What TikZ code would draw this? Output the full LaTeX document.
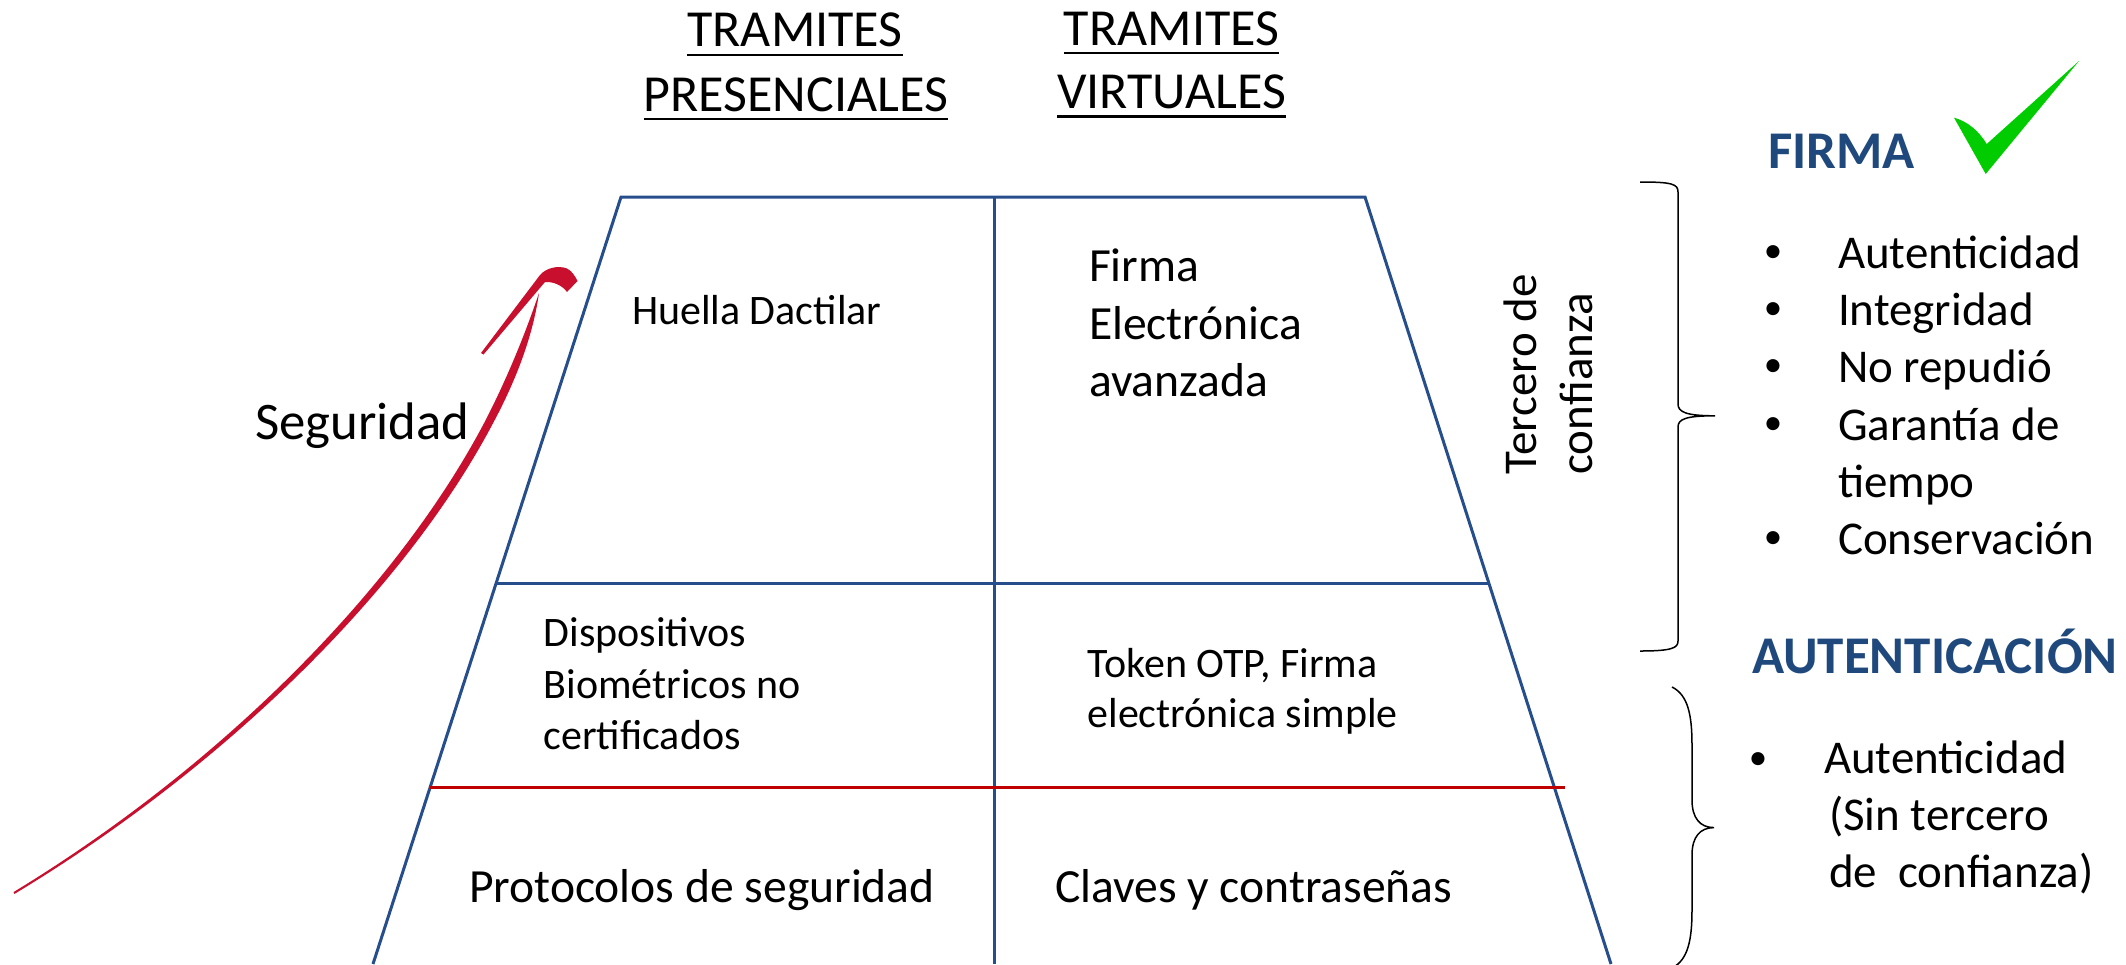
\documentclass[tikz,border=0pt]{standalone}
\usepackage{fontspec}
\setmainfont{Carlito}
\definecolor{trapblue}{RGB}{38,78,140}
\definecolor{linered}{RGB}{192,0,0}
\definecolor{arrowred}{RGB}{200,16,46}
\definecolor{titleblue}{RGB}{31,73,125}
\definecolor{checkgreen}{RGB}{0,204,0}
\begin{document}
\begin{tikzpicture}[x=0.5pt,y=-0.5pt,
  every node/.style={inner sep=0pt,outer sep=0pt},
  trap/.style={draw=trapblue,line width=1.5pt,line join=miter},
  redline/.style={draw=linered,line width=1.6pt},
  hdr/.style={font=\fontsize{26}{32}\selectfont,anchor=base},
  uline/.style={line width=1.2pt},
  cell/.style={font=\fontsize{21}{25}\selectfont,anchor=base west},
  big/.style={font=\fontsize{23.8}{28}\selectfont,anchor=base west},
  item/.style={font=\fontsize{23.5}{28}\selectfont,anchor=base west},
  bul/.style={font=\fontsize{18.5}{22}\selectfont,anchor=base},
  ttl/.style={font=\fontsize{26.5}{30}\selectfont\bfseries,text=titleblue,anchor=base west},
  vtext/.style={font=\fontsize{23.5}{28}\selectfont,anchor=base west,rotate=90},
  brace/.style={draw=black,line width=0.75pt}]
\useasboundingbox (0,0) rectangle (2126,964);

% trapezoid
\coordinate (tl) at (621,197);
\coordinate (tr) at (1365,197);
\coordinate (bl) at (373,964);
\coordinate (br) at (1611,964);
\coordinate (mt) at (994,197);
\coordinate (mb) at (994,964);
\coordinate (bll) at (496.2,583);
\coordinate (blr) at (1488.8,583);
\coordinate (rll) at (430.1,787.5);
\coordinate (rlr) at (1565,787.5);
\draw[trap] (bl) -- (tl) -- (tr) -- (br);
\draw[trap] (mt) -- (mb);
\draw[trap] (bll) -- (blr);
\draw[redline] (rll) -- (rlr);

% headers
\node[hdr] (h1a) at (795,46.7) {TRAMITES};
\node[hdr] (h1b) at (795.8,111) {PRESENCIALES};
\node[hdr] (h2a) at (1171.6,45) {TRAMITES};
\node[hdr] (h2b) at (1171.6,108.5) {VIRTUALES};
\foreach \n in {h1a,h1b,h2a,h2b}
  \draw[uline] ([yshift=-4pt]\n.base west) -- ([yshift=-4pt]\n.base east);

% cells
\node[cell] (huella) at (632,324) {Huella Dactilar};
\node[big] (fa1) at (1089,281.7) {Firma};
\node[big] (fa2) at (1089,339.3) {Electrónica};
\node[big] (fa3) at (1089,396.9) {avanzada};
\node[cell] (d1) at (543.6,646.3) {Dispositivos};
\node[cell] (d2) at (543.6,698.5) {Biométricos no};
\node[cell] (d3) at (543.6,749.8) {certificados};
\node[cell] (t1) at (1087.5,677) {Token OTP, Firma};
\node[cell] (t2) at (1087.5,727) {electrónica simple};
\node[big] (prot) at (469,902.4) {Protocolos de seguridad};
\node[big] (clav) at (1055,902.4) {Claves y contraseñas};

% security arrow
\node[font=\fontsize{26.4}{30}\selectfont,anchor=base west] (seg) at (255,439) {Seguridad};
\fill[arrowred] (13.5,892.1) .. controls (218.0,767.7) and (397.46,590.28) .. (486.65,418.15)
  .. controls (508.57,374.92) and (525.31,333.48) .. (539,293)
  .. controls (533.09,335.32) and (516.55,379.08) .. (493.75,421.85)
  .. controls (403.66,593.52) and (219.6,770.3) .. (14.5,893.9) -- cycle;
\fill[arrowred] (481,353) -- (540,275) .. controls (546,268) and (558,265) .. (567,268.5)
  .. controls (572,271) and (575,276) .. (577.5,281) -- (567,292)
  .. controls (562,285) and (553,281.5) .. (545,282) -- (483.5,354.5) -- cycle;

% tercero de confianza
\node[vtext] (ter1) at (1536,474.5) {Tercero de};
\node[vtext] (ter2) at (1592,474.5) {confianza};

% braces
\draw[brace] (1640,182) .. controls (1672,182) and (1678,184) .. (1678,192) -- (1678,404)
  .. controls (1678,412) and (1686,415.8) .. (1715,415.8)
  .. controls (1686,415.8) and (1678,419) .. (1678,427) -- (1678,641)
  .. controls (1678,648) and (1672,651) .. (1640,651);
\draw[brace] (1672,687) .. controls (1688,695) and (1692,715) .. (1692,745) -- (1692,800)
  .. controls (1692,818) and (1700,827.6) .. (1714,827.6)
  .. controls (1700,827.6) and (1692,837) .. (1692,855) -- (1692,910)
  .. controls (1692,940) and (1688,960) .. (1672,968);

% firma
\node[ttl] (firma) at (1768,168.3) {FIRMA};
\fill[checkgreen] (1954,117.7) .. controls (1967,121) and (1979,131) .. (1986.7,144) -- (2079,61) -- (1985.7,174) -- cycle;
\foreach \y/\t [count=\i] in {268.4/Autenticidad,325.6/Integridad,382.8/No repudió,440/Garantía de,554.4/Conservación}{
  \node[bul] (fb\i) at (1773,\y-6) {\textbullet};
  \node[item] (fi\i) at (1838,\y) {\t};
}
\node[item] (fi6) at (1838,497.2) {tiempo};

% autenticacion
\node[ttl] (auten) at (1752,673.4) {AUTENTICACIÓN};
\node[bul] (ab1) at (1758,769) {\textbullet};
\node[item] (ai1) at (1824,773) {Autenticidad};
\node[item] (ai2) at (1829,830) {(Sin tercero};
\node[item] (ai3) at (1829,887) {de~~confianza)};
\end{tikzpicture}
\end{document}
